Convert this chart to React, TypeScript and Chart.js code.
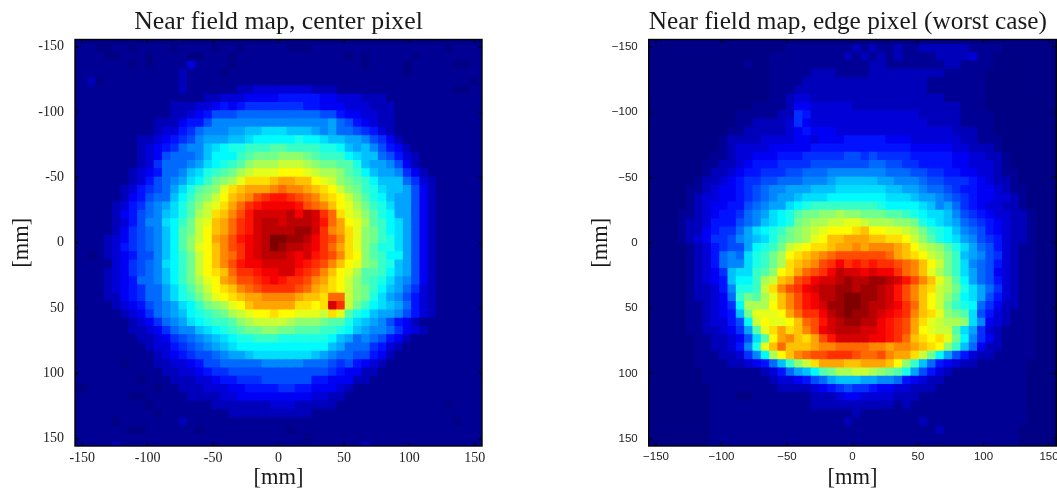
import React, { useEffect, useRef } from "react";
import { Chart, registerables } from "chart.js";

Chart.register(...registerables);

// Map levels: one character per cell, 0-9 then a-z = jet colormap level 0..35.
const centerPixelRows: string[] = [
  "1100110111 1011110110 1111100011 1111111111 111101111",
  "1110011101 1110011101 1111111111 1101011111 011111111",
  "1111110101 1113111101 1111111111 1111011110 111110011",
  "1111111111 1121111011 1111111111 1111111110 111111111",
  "1201111111 1121111111 1111111111 1111111111 111111101",
  "1111111111 1121111112 2333333322 2111111111 111110011",
  "1111111111 1111122333 4444555554 4333222111 111111111",
  "1111111111 1222334545 6666666554 4433322211 111111111",
  "1111111111 1223457778 8888888887 7544332211 111111111",
  "1111111112 2245579999 9999999999 a875432211 111111111",
  "1111111112 33568999aa bbcccbbba9 a887653211 111111111",
  "1111111223 45679aaabb cdddddeddc bbaa976421 111111111",
  "1111111234 56899bcdee fffggffffe edbab97542 111111111",
  "1111111234 78889bdddf ghhhiiihgf ffdcbb8753 211111111",
  "1111111236 8889acdefg ijjjkkkjih hggebaa974 211111111",
  "1111112345 889bcefghj klllmmmlkj jigfdbaa96 421111111",
  "1111112357 89acdfhijl nnnoppooml kihgfdbbb8 632111111",
  "1111123567 8aceghilno pppqrqqpon mkihfecbba 742111111",
  "1111124578 8bdfhikmop qstuutsrqo nmkigedbaa 742111111",
  "1111235689 acegiklnpr tuvvvvusrq omljhfecaa 742111111",
  "1111245789 bcegjknoqs uwwwwxvxwt rnlkigedaa 742111111",
  "1111235799 cdfhkloprt uwxxwxxxwu rpmljgfdca 742111111",
  "1111246789 bdghkmoprt uwxxxxyywt qpnlihfdca 742111111",
  "1112346789 bdgikmpqsu vwxzzyyxvt sqnlihfeca 742111111",
  "1112356789 bdgilmoqst vwxzyxxwvt rpnligeeca 742111111",
  "1012345779 bdfhkmoqrt vwxxxwvwut sqnmigfdda 742111111",
  "1111346789 cdfhkmoqsu vvwwwwvuts qomlihfeba 742111111",
  "1112346789 bdfhkmnort tuvvwwutsq omljggfdba 742111111",
  "1112345889 bdfhjlmpqs stuvuttsqp nmkigfeca9 742111111",
  "1112345688 acegikmnoq rsttttsrpo nmkihfdba8 632111111",
  "1112245688 acefhjlmno ppqqqqpoon rrkiheca97 532111111",
  "1111234578 9acdfhijlm opppppnnmn wtkhfdcba8 532111111",
  "1111123468 9abdefghjk lmmnmmlllk nlgedbaa97 532111111",
  "1111112346 89acdeffgi jkkkkjiiih ggecba9754 211111111",
  "1111112234 6899bcdefg hhiihhgggf fedba99864 321111111",
  "1111111223 46789abcde efffeeeeee dba8987542 111111111",
  "1111111123 356789abcd dddddddddd ba88865321 111111111",
  "1111111112 34567789aa bcccccccba 9887754211 111111111",
  "1111101112 2334577888 8899999888 7675432111 111111111",
  "1111111111 2233456677 7777777777 6544221111 111111111",
  "1111111011 1222334556 6677777755 4442211111 111111111",
  "0111111110 1122233344 5555665544 4321111111 111111111",
  "1111110011 1112222334 4444444433 2211111111 111111111",
  "1111111101 1111112222 2223332222 2111111111 111101111",
  "1111111110 1111111122 2222222211 1111111111 111111111",
  "1111011111 1121111111 1111111111 1111111111 111110111",
  "1111110011 1111011111 1111101111 1111111111 111111111",
  "1111111111 1111111111 1111111011 1111111111 111111111",
  "1111211111 1111110111 1111111111 1111211111 111111111",
];

const edgePixelRows: string[] = [
  "0000000000 0000001111 1111212112 1122222211 110000000",
  "0000000000 0000111111 1112121212 1111222231 100000000",
  "0000000000 0100111111 1111112211 1111122111 100000000",
  "0000000000 0000111112 2211112222 2222211111 000000000",
  "0000000000 0000111122 2222222222 2221111111 000000000",
  "0000000000 0000111222 2222222222 2221111111 000000000",
  "0000000000 0000112332 2222222222 2222211111 000000000",
  "0000000000 0011112443 3333222222 2222222111 000000000",
  "0000000000 1111122653 3333333333 3322222111 100000000",
  "0000000000 1122223643 3333333333 3332222111 100000000",
  "0000000001 1222223454 4433333333 3333332221 100000000",
  "0000000012 2223333443 4445555544 4333333221 110000000",
  "0000000012 3333444445 5555555555 5444443322 210000000",
  "0000000112 3344455566 6667767666 6555554433 221000000",
  "0000001122 3455566667 7777778877 6655554433 321000000",
  "0000001223 4556667788 8999999988 8776655443 321100000",
  "0000012234 5667788899 9abbbbbaa9 9987766654 322100000",
  "0000112344 567899aaab bbccccccbb aa98876554 432110000",
  "0000123344 56789aabcc cdddddddcc cbaa987654 433210000",
  "0000123445 5789aacdef fffffffedd ddcb9a8654 332210000",
  "0001123455 689acdeghh iijiihhhgg fedccb9765 433221000",
  "0001223555 789bcdehij jkkllkjjji ihedcba876 543221000",
  "0001224566 8acdefhijk lmmmnommll kjhfedb987 543221000",
  "0001234667 9abceghijl moopppoonn mkigedca97 653221000",
  "0000123567 7adefhklmn noppqpqqqp omkjigeca8 753211000",
  "0000123589 8cefhjmnop qrssssssrp onmkjhfba9 763211000",
  "0000123589 9cefhjnopq stvtututts rqomkhfc98 753211000",
  "000012346b ccfgimnprs tvxwwvwvvt rqoljhfca8 743211000",
  "000012345b ddfjkopstv wwxyxxyyxw usqoljgda8 753211000",
  "0000122359 eefknqstvw xxyyxyyxwu sqonkjheca 863211000",
  "0000122348 fhgjloqsuv xxyzzyyxwu sqomkigdca 753211000",
  "0000112346 djjjmoqsuv wyyzzyxxwv tromkhfed8 642211000",
  "0000112345 bhlllmprtt vxyzyyxwvu tqonlihgc7 532111000",
  "0000112335 7dkmllmors uwxyyxxvut spnlkjjic9 432111000",
  "0000112234 6aglnpnoqs vwxxxwwvut spmlkkgca6 321111000",
  "0000011223 47cgmpqonp suwwwwvvut ronmnlhd96 421111000",
  "0000011223 59elorooop qqrrrrqqpq qponmifb84 221111000",
  "0000011122 369djmoqrs stttsrrsqp pnkhda7532 211111000",
  "0000011112 23458bfikn pppoopppom ifb8543221 111110000",
  "0000001111 1112358abd ghjjkkjihg ea75321111 111110000",
  "0000001111 1111233457 8abbbaa998 5432211111 111110000",
  "0000000111 1111122223 4567665443 3222111111 111110000",
  "0000000111 0011111112 2234433332 2211111111 111110000",
  "0000000111 1111111112 2222222221 2111111111 111110000",
  "0000000111 1111111111 1111211111 1111111111 111110000",
  "0000000111 1111111111 1112111111 1121111111 111110000",
  "0000000111 1111111111 1111111111 1111211111 111100000",
  "0000000111 1111111111 1111111111 1111111111 111100000",
  "0000000111 1111111111 1111111111 1111111111 111100000",
];

const tickValues: number[] = [-150, -100, -50, 0, 50, 100, 150];
const titleLeft = "Near field map, center pixel";
const titleRight = "Near field map, edge pixel (worst case)";
const axisLabel = "[mm]";

const PITCH_MM = 6.35;
const AXIS_LIMIT = 155.575;
const Y_SHIFT_MM = 0.6;
const X_SHIFT_MM = 0.2;

function jet(level: number): string {
  const v = level === 0 ? 0.005 : level === 1 ? 0.02 : level / 35;
  const c = (t: number) => Math.round(255 * Math.max(0, Math.min(1, t)));
  const r = c(Math.min(4 * v - 1.5, 4.5 - 4 * v));
  const g = c(Math.min(4 * v - 0.5, 3.5 - 4 * v));
  const b = c(Math.min(4 * v + 0.5, 2.5 - 4 * v));
  return `rgb(${r},${g},${b})`;
}

function cells(rows: string[]) {
  const pts: { x: number; y: number }[] = [];
  const colours: string[] = [];
  rows.forEach((raw, r) => {
    const row = raw.replace(/ /g, "");
    for (let c = 0; c < row.length; c++) {
      pts.push({ x: (c - 23.5) * PITCH_MM + X_SHIFT_MM, y: (r - 23.5) * PITCH_MM + Y_SHIFT_MM });
      colours.push(jet(parseInt(row[c], 36)));
    }
  });
  return { pts, colours };
}

const frame = {
  id: "frame",
  beforeDatasetsDraw(chart: any) {
    const { ctx, chartArea: a } = chart;
    ctx.save();
    ctx.fillStyle = "rgb(0,0,135)";
    ctx.fillRect(a.left, a.top, a.right - a.left, a.bottom - a.top);
    ctx.restore();
  },
  afterDatasetsDraw(chart: any) {
    const { ctx, chartArea: a, scales } = chart;
    const w = a.right - a.left;
    const h = a.bottom - a.top;
    ctx.save();
    ctx.beginPath();
    ctx.rect(a.left, a.top, w, h);
    ctx.clip();
    ctx.filter = "blur(0.45px)";
    ctx.drawImage(ctx.canvas, a.left, a.top, w, h, a.left, a.top, w, h);
    ctx.restore();
    ctx.save();
    ctx.strokeStyle = "#000";
    ctx.lineWidth = 1;
    ctx.beginPath();
    for (const t of scales.x.ticks) {
      const p = scales.x.getPixelForValue(t.value);
      ctx.moveTo(p, a.bottom);
      ctx.lineTo(p, a.bottom - 4);
      ctx.moveTo(p, a.top);
      ctx.lineTo(p, a.top + 4);
    }
    for (const t of scales.y.ticks) {
      const p = scales.y.getPixelForValue(t.value);
      ctx.moveTo(a.left, p);
      ctx.lineTo(a.left + 4, p);
      ctx.moveTo(a.right, p);
      ctx.lineTo(a.right - 4, p);
    }
    ctx.stroke();
    ctx.lineWidth = 1.4;
    ctx.strokeRect(a.left, a.top, w, h);
    ctx.restore();
  },
};

function config(
  rows: string[],
  title: string,
  titleSize: number,
  titleAlign: "center" | "start",
  tickFont: { family: string; size: number },
  fmt: (v: number) => string,
  plotLeft: number,
  rightPad: number,
  yTitlePad: number
) {
  const { pts, colours } = cells(rows);
  const serif = "'Liberation Serif', serif";
  const setTicks = (s: any) => {
    s.ticks = tickValues.map((value) => ({ value }));
  };
  return {
    type: "scatter" as const,
    data: {
      datasets: [
        {
          label: title,
          data: pts,
          pointStyle: "rect",
          pointRadius: 6.6,
          pointHoverRadius: 6.6,
          pointBorderWidth: 0,
          pointBorderColor: colours,
          pointBackgroundColor: colours,
          showLine: false,
        },
      ],
    },
    options: {
      responsive: false,
      animation: false as const,
      layout: { padding: { left: 0, right: rightPad, top: 0, bottom: 0 } },
      plugins: {
        legend: { display: false },
        tooltip: { enabled: false },
        title: {
          display: true,
          text: title,
          fullSize: false,
          align: titleAlign,
          color: "#1a1a1a",
          font: { family: serif, size: titleSize, weight: "normal" as const, lineHeight: 30 / titleSize },
          padding: { top: 7, bottom: 2.5 },
        },
      },
      scales: {
        x: {
          type: "linear" as const,
          min: -AXIS_LIMIT,
          max: AXIS_LIMIT,
          afterBuildTicks: setTicks,
          afterFit: (s: any) => {
            s.height = 54;
          },
          grid: { display: false, drawTicks: false },
          border: { display: false },
          ticks: {
            autoSkip: false,
            maxRotation: 0,
            padding: 4,
            color: "#222",
            font: tickFont,
            callback: (v: any) => fmt(Number(v)),
          },
          title: {
            display: true,
            text: axisLabel,
            color: "#1a1a1a",
            font: { family: serif, size: 22.5, lineHeight: 1.2 },
            padding: { top: 0, bottom: 8 },
          },
        },
        y: {
          type: "linear" as const,
          reverse: true,
          min: -AXIS_LIMIT,
          max: AXIS_LIMIT,
          afterBuildTicks: setTicks,
          afterFit: (s: any) => {
            s.width = plotLeft;
          },
          grid: { display: false, drawTicks: false },
          border: { display: false },
          ticks: {
            autoSkip: false,
            padding: 11,
            color: "#222",
            font: tickFont,
            callback: (v: any) => fmt(Number(v)),
          },
          title: {
            display: true,
            text: axisLabel,
            color: "#1a1a1a",
            font: { family: serif, size: 22.5, lineHeight: 1.2 },
            padding: { top: yTitlePad, bottom: 0 },
          },
        },
      },
    },
    plugins: [frame],
  };
}

export default function App() {
  const leftRef = useRef<HTMLCanvasElement>(null);
  const rightRef = useRef<HTMLCanvasElement>(null);
  useEffect(() => {
    const a = new Chart(
      leftRef.current as HTMLCanvasElement,
      config(
        centerPixelRows,
        titleLeft,
        25.8,
        "center",
        { family: "'Liberation Serif', serif", size: 14 },
        (v) => String(v),
        75,
        43,
        9
      ) as any
    );
    const b = new Chart(
      rightRef.current as HTMLCanvasElement,
      config(
        edgePixelRows,
        titleRight,
        25.3,
        "start",
        { family: "'Liberation Sans', sans-serif", size: 11.5 },
        (v) => String(v).replace("-", "\u2212"),
        113.7,
        38.7,
        53
      ) as any
    );
    return () => {
      a.destroy();
      b.destroy();
    };
  }, []);
  return (
    <div style={{ position: "absolute", left: 0, top: 0, width: 1057, height: 488, overflow: "hidden", background: "#fff" }}>
      <canvas ref={leftRef} width={525} height={500} style={{ position: "absolute", left: 0, top: 0, width: 525, height: 500 }} />
      <canvas ref={rightRef} width={560} height={500} style={{ position: "absolute", left: 535, top: 0, width: 560, height: 500 }} />
    </div>
  );
}
